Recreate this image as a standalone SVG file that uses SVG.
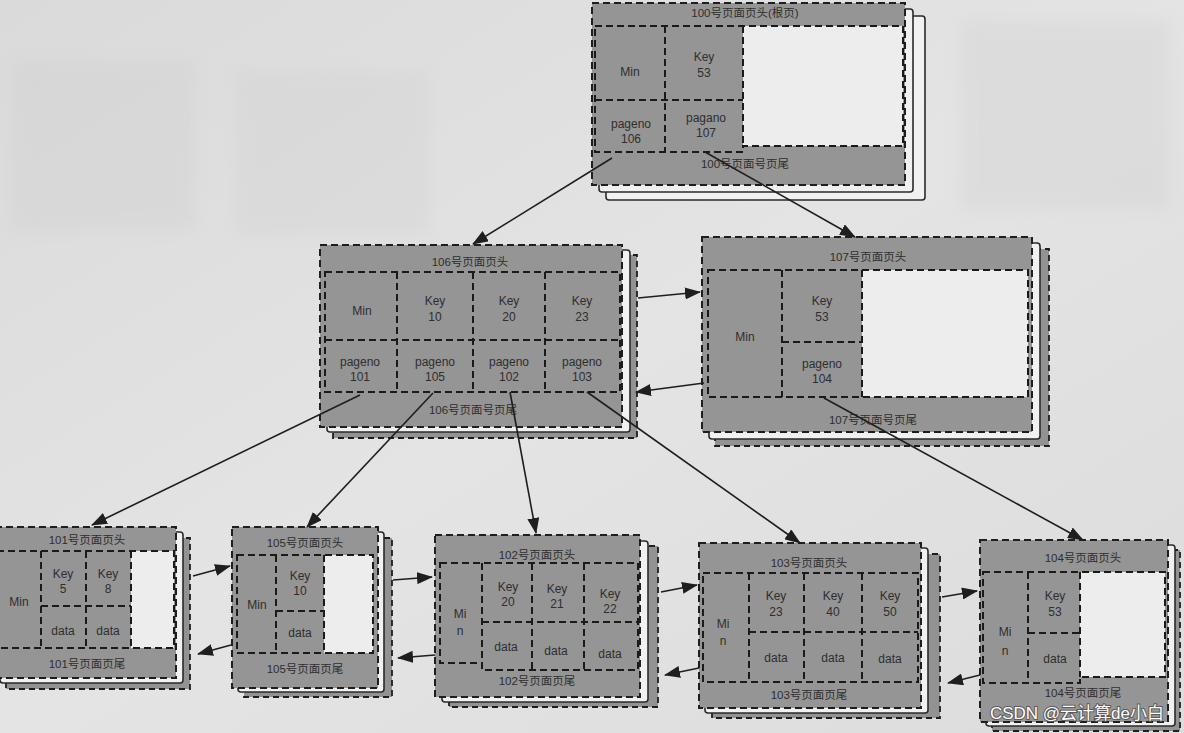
<svg xmlns="http://www.w3.org/2000/svg" width="1184" height="733" viewBox="0 0 1184 733">
<style>
.page{fill:#959595;stroke:#1e1e1e;stroke-width:2;stroke-dasharray:7 4}
.sheet{fill:#f1f1f1;stroke:#2a2a2a;stroke-width:1.6}
.sheetg{fill:#929292;stroke:#1e1e1e;stroke-width:1.8;stroke-dasharray:6 4}
.grid{fill:none;stroke:#1a1a1a;stroke-width:2;stroke-dasharray:7 4}
.blank{fill:#ededed}
.t{font-family:"Liberation Sans","Noto Sans CJK SC",sans-serif;font-size:12px;fill:#2e2e2e;text-anchor:middle}
.h{font-family:"Liberation Sans","Noto Sans CJK SC",sans-serif;font-size:11.5px;fill:#2e2e2e;text-anchor:middle}
.edge{fill:none;stroke:#1e1e1e;stroke-width:1.6;marker-end:url(#ah)}
.wm{font-family:"Liberation Sans","Noto Sans CJK SC",sans-serif;font-size:17px;fill:#ffffff;stroke:#5a5a5a;stroke-width:2;paint-order:stroke;text-anchor:middle}
</style>
<defs>
<marker id="ah" markerUnits="userSpaceOnUse" markerWidth="16" markerHeight="12" refX="15" refY="6" orient="auto">
<path d="M0,0 L16,6 L0,12 z" fill="#1e1e1e"/>
</marker>
<filter id="blur"><feGaussianBlur stdDeviation="8"/></filter>
<linearGradient id="bgg" x1="0" y1="0" x2="1" y2="1">
<stop offset="0" stop-color="#dadada"/>
<stop offset="0.5" stop-color="#e4e4e4"/>
<stop offset="1" stop-color="#dcdcdc"/>
</linearGradient>
</defs>
<rect width="1184" height="733" fill="url(#bgg)"/>
<g opacity="0.35" filter="url(#blur)">
<rect x="10" y="60" width="185" height="170" fill="#cfcfcf"/>
<rect x="235" y="70" width="195" height="165" fill="#d2d2d2"/>
<rect x="960" y="20" width="210" height="190" fill="#d0d0d0"/>
</g>

<g id="page100">
<rect class="sheet" x="606" y="16" width="319" height="184" rx="3"/>
<rect class="sheet" x="599" y="9" width="314" height="183" rx="3"/>
<rect class="page" x="592" y="3" width="313" height="182"/>
<text class="h" x="745" y="17">100号页面页头(根页)</text>
<rect class="blank" x="743" y="26" width="160" height="120"/>
<path class="grid" d="M595,26 H903 V146 H743 V152 H595 Z M665,26 V152 M743,26 V146 M595,100 H743"/>
<text class="t" x="630" y="76">Min</text>
<text class="t" x="704" y="61">Key</text><text class="t" x="704" y="77">53</text>
<text class="t" x="631" y="128">pageno</text><text class="t" x="631" y="143">106</text>
<text class="t" x="706" y="122">pagano</text><text class="t" x="706" y="137">107</text>
<text class="h" x="745" y="168">100号页面号页尾</text>
</g>

<g id="page106">
<rect class="sheetg" x="333" y="255" width="304" height="183"/>
<rect class="sheet" x="327" y="250" width="303" height="182" rx="3"/>
<rect class="page" x="320" y="245" width="302" height="182"/>
<text class="h" x="470" y="266">106号页面页头</text>
<path class="grid" d="M325,272 H620 V392 H325 Z M397,272 V392 M473,272 V392 M545,272 V392 M325,340 H620"/>
<text class="t" x="362" y="315">Min</text>
<text class="t" x="435" y="305">Key</text><text class="t" x="435" y="321">10</text>
<text class="t" x="509" y="305">Key</text><text class="t" x="509" y="321">20</text>
<text class="t" x="582" y="305">Key</text><text class="t" x="582" y="321">23</text>
<text class="t" x="360" y="366">pageno</text><text class="t" x="360" y="381">101</text>
<text class="t" x="435" y="366">pageno</text><text class="t" x="435" y="381">105</text>
<text class="t" x="509" y="366">pageno</text><text class="t" x="509" y="381">102</text>
<text class="t" x="582" y="366">pageno</text><text class="t" x="582" y="381">103</text>
<text class="h" x="473" y="414">106号页面号页尾</text>
</g>

<g id="page107">
<rect class="sheetg" x="715" y="249" width="334" height="197"/>
<rect class="sheet" x="709" y="243" width="331" height="196" rx="3"/>
<rect class="page" x="702" y="237" width="330" height="195"/>
<text class="h" x="868" y="261">107号页面页头</text>
<rect class="blank" x="862" y="270" width="166" height="127"/>
<path class="grid" d="M708,270 H1028 V397 H708 Z M782,270 V397 M862,270 V397 M782,342 H862"/>
<text class="t" x="745" y="341">Min</text>
<text class="t" x="822" y="305">Key</text><text class="t" x="822" y="321">53</text>
<text class="t" x="822" y="368">pageno</text><text class="t" x="822" y="383">104</text>
<text class="h" x="873" y="424">107号页面号页尾</text>
</g>

<g id="page101">
<rect class="sheetg" x="6" y="538" width="184" height="151"/>
<rect class="sheet" x="0" y="532" width="183" height="151" rx="3"/>
<rect class="page" x="-5" y="527" width="181" height="151"/>
<text class="h" x="87" y="544">101号页面页头</text>
<rect class="blank" x="131" y="551" width="43" height="97"/>
<path class="grid" d="M-3,551 H174 V648 H-3 Z M41,551 V648 M86,551 V648 M131,551 V648 M41,606 H131"/>
<text class="t" x="19" y="606">Min</text>
<text class="t" x="63" y="578">Key</text><text class="t" x="63" y="593">5</text>
<text class="t" x="108" y="578">Key</text><text class="t" x="108" y="593">8</text>
<text class="t" x="63" y="635">data</text>
<text class="t" x="108" y="635">data</text>
<text class="h" x="87" y="668">101号页面页尾</text>
</g>

<g id="page105">
<rect class="sheetg" x="244" y="538" width="148" height="159"/>
<rect class="sheet" x="238" y="532" width="146" height="160" rx="3"/>
<rect class="page" x="232" y="527" width="146" height="161"/>
<text class="h" x="305" y="547">105号页面页头</text>
<rect class="blank" x="324" y="555" width="49" height="98"/>
<path class="grid" d="M237,555 H373 V653 H237 Z M276,555 V653 M324,555 V653 M276,611 H324"/>
<text class="t" x="257" y="609">Min</text>
<text class="t" x="300" y="580">Key</text><text class="t" x="300" y="595">10</text>
<text class="t" x="300" y="637">data</text>
<text class="h" x="305" y="673">105号页面页尾</text>
</g>

<g id="page102">
<rect class="sheetg" x="449" y="546" width="209" height="161"/>
<rect class="sheet" x="442" y="541" width="206" height="161" rx="3"/>
<rect class="page" x="435" y="535" width="205" height="162"/>
<text class="h" x="537" y="559">102号页面页头</text>
<path class="grid" d="M440,563 H638 V670 H482 V663 H440 Z M482,563 V670 M532,563 V670 M584,563 V670 M482,622 H638"/>
<text class="t" x="460" y="618">Mi</text><text class="t" x="460" y="635">n</text>
<text class="t" x="508" y="591">Key</text><text class="t" x="508" y="606">20</text>
<text class="t" x="557" y="593">Key</text><text class="t" x="557" y="608">21</text>
<text class="t" x="610" y="598">Key</text><text class="t" x="610" y="613">22</text>
<text class="t" x="506" y="651">data</text>
<text class="t" x="556" y="655">data</text>
<text class="t" x="610" y="658">data</text>
<text class="h" x="537" y="685">102号页面页尾</text>
</g>

<g id="page103">
<rect class="sheetg" x="712" y="554" width="228" height="164"/>
<rect class="sheet" x="705" y="548" width="223" height="165" rx="3"/>
<rect class="page" x="699" y="543" width="222" height="165"/>
<text class="h" x="809" y="567">103号页面页头</text>
<path class="grid" d="M703,573 H918 V682 H703 Z M749,573 V682 M804,573 V682 M862,573 V682 M749,632 H918"/>
<text class="t" x="723" y="628">Mi</text><text class="t" x="723" y="645">n</text>
<text class="t" x="776" y="600">Key</text><text class="t" x="776" y="616">23</text>
<text class="t" x="833" y="600">Key</text><text class="t" x="833" y="616">40</text>
<text class="t" x="890" y="600">Key</text><text class="t" x="890" y="616">50</text>
<text class="t" x="776" y="662">data</text>
<text class="t" x="833" y="662">data</text>
<text class="t" x="890" y="663">data</text>
<text class="h" x="809" y="699">103号页面页尾</text>
</g>

<g id="page104">
<rect class="sheetg" x="992" y="550" width="188" height="181"/>
<rect class="sheet" x="986" y="545" width="189" height="181" rx="3"/>
<rect class="page" x="980" y="540" width="188" height="182"/>
<text class="h" x="1083" y="562">104号页面页头</text>
<rect class="blank" x="1080" y="572" width="85" height="105"/>
<path class="grid" d="M983,572 H1165 V677 H1080 V683 H983 Z M1028,572 V683 M1080,572 V677 M1028,633 H1080"/>
<text class="t" x="1005" y="636">Mi</text><text class="t" x="1005" y="655">n</text>
<text class="t" x="1055" y="600">Key</text><text class="t" x="1055" y="616">53</text>
<text class="t" x="1055" y="663">data</text>
<text class="h" x="1083" y="697">104号页面页尾</text>
</g>

<g id="connectors">
<line class="edge" x1="612" y1="158" x2="473" y2="244"/>
<line class="edge" x1="705" y1="152" x2="855" y2="237"/>
<line class="edge" x1="638" y1="298" x2="700" y2="292"/>
<line class="edge" x1="704" y1="383" x2="636" y2="392"/>
<line class="edge" x1="360" y1="395" x2="92" y2="525"/>
<line class="edge" x1="433" y1="393" x2="307" y2="527"/>
<line class="edge" x1="510" y1="392" x2="536" y2="533"/>
<line class="edge" x1="587" y1="392" x2="800" y2="543"/>
<line class="edge" x1="824" y1="398" x2="1083" y2="540"/>
<line class="edge" x1="193" y1="576" x2="230" y2="566"/>
<line class="edge" x1="231" y1="645" x2="198" y2="654"/>
<line class="edge" x1="393" y1="580" x2="432" y2="577"/>
<line class="edge" x1="435" y1="655" x2="398" y2="658"/>
<line class="edge" x1="661" y1="592" x2="697" y2="585"/>
<line class="edge" x1="699" y1="668" x2="665" y2="675"/>
<line class="edge" x1="942" y1="597" x2="977" y2="591"/>
<line class="edge" x1="980" y1="675" x2="948" y2="683"/>
</g>

<text class="wm" x="1077" y="719">CSDN @云计算de小白</text>
</svg>
